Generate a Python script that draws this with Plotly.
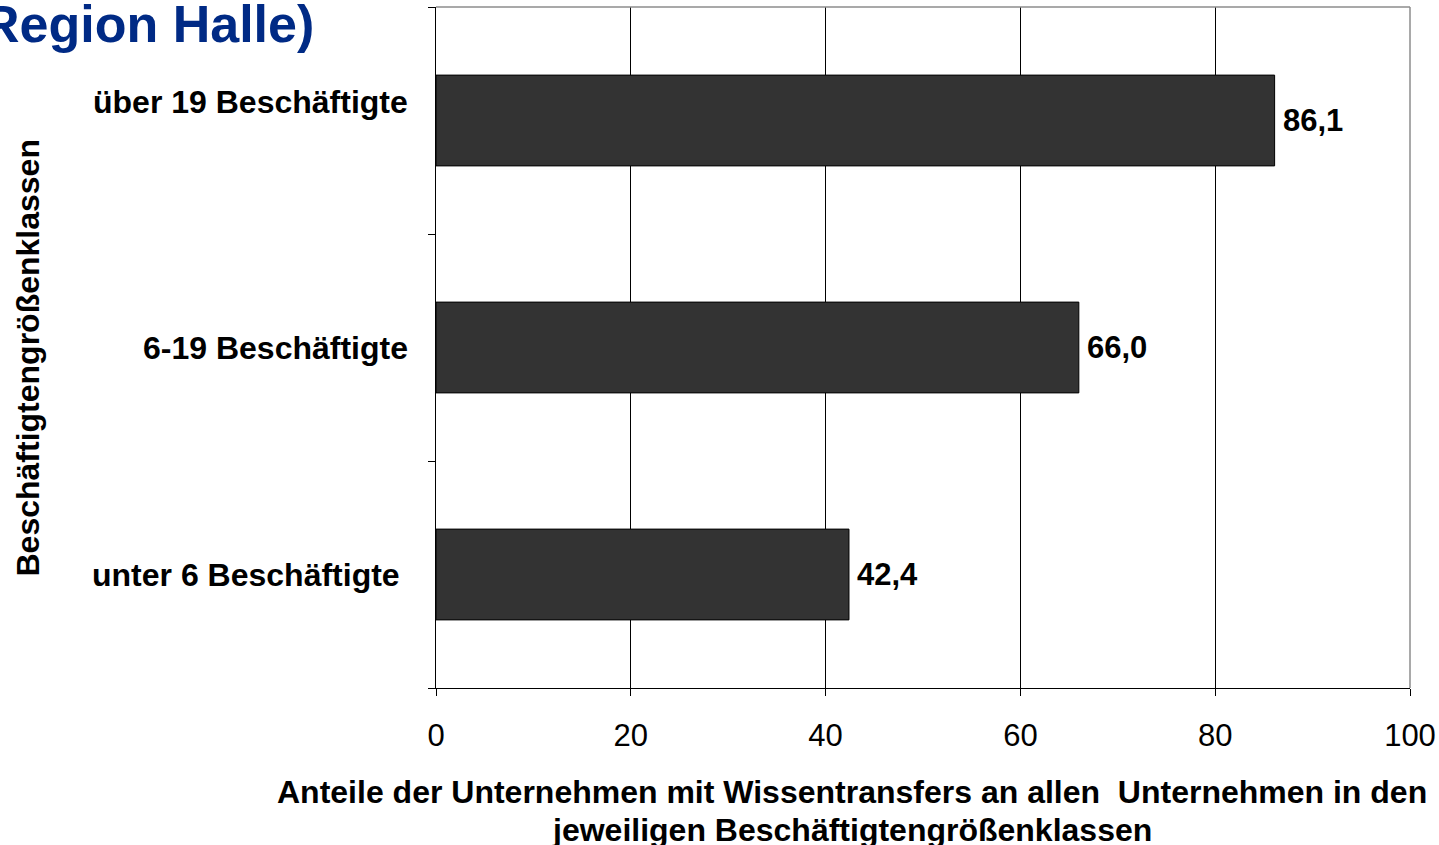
import plotly.graph_objects as go

categories = ["unter 6 Beschäftigte", "6-19 Beschäftigte", "über 19 Beschäftigte"]
values = [42.4, 66.0, 86.1]
value_labels = ["42,4", "66,0", "86,1"]
x_ticks = [0, 20, 40, 60, 80, 100]
title_text = "Region Halle)"
x_title_lines = ["Anteile der Unternehmen mit Wissentransfers an allen  Unternehmen in den",
                 "jeweiligen Beschäftigtengrößenklassen"]
y_title = "Beschäftigtengrößenklassen"

FONT = "Liberation Sans, Arial, sans-serif"
pos = list(range(len(categories)))

fig = go.Figure()
fig.add_trace(go.Bar(
    x=values, y=pos, orientation="h",
    width=0.4,
    marker=dict(color="#333333", line=dict(color="#000000", width=1)),
    hoverinfo="skip",
))

W, H = 1439, 845
L, R, T, B = 436, 29, 7, 157
PW, PH = W - L - R, H - T - B

fig.update_layout(
    width=W, height=H,
    margin=dict(l=L, r=R, t=T, b=B, pad=0),
    paper_bgcolor="white", plot_bgcolor="white",
    showlegend=False,
    font=dict(family=FONT, color="#000000"),
    xaxis=dict(
        range=[0, 100], tickvals=x_ticks, ticktext=[str(v) for v in x_ticks],
        showgrid=True, gridcolor="#000000", gridwidth=1,
        showline=True, linecolor="#000000", linewidth=1,
        ticks="outside", ticklen=7, tickcolor="#000000", tickwidth=1,
        ticklabelstandoff=13,
        tickfont=dict(family=FONT, size=31, color="#000000"),
        zeroline=False, fixedrange=True, automargin=False,
    ),
    yaxis=dict(
        range=[-0.5, 2.5], tickvals=[-0.5, 0.5, 1.5, 2.5], ticktext=["", "", "", ""],
        showgrid=False, showline=True, linecolor="#000000", linewidth=1,
        ticks="outside", ticklen=7, tickcolor="#000000", tickwidth=1,
        zeroline=False, fixedrange=True, automargin=False,
    ),
)

# grey top and right border
fig.add_shape(type="line", xref="paper", yref="paper", x0=0, x1=1, y0=1, y1=1,
              line=dict(color="#8c8c8c", width=1.5))
fig.add_shape(type="line", xref="paper", yref="paper", x0=1, x1=1, y0=0, y1=1,
              line=dict(color="#8c8c8c", width=1.5))

# value labels
for p, v, t in zip(pos, values, value_labels):
    fig.add_annotation(x=v, xref="x", y=p, yref="y", text=t, showarrow=False,
                       xanchor="left", yanchor="middle", xshift=6,
                       font=dict(family=FONT, size=31, color="#000000", weight="bold"))

# category labels
shifts = [(-34, 0), (-26, 0), (-26, 19)]
for p, c, (xs, ys) in zip(pos, categories, shifts):
    fig.add_annotation(x=0, xref="paper", y=p, yref="y", text=c, showarrow=False,
                       xanchor="right", yanchor="middle", xshift=xs, yshift=ys,
                       font=dict(family=FONT, size=32, color="#000000", weight="bold"))

# x axis title (two lines)
for line, yc in zip(x_title_lines, [792, 830]):
    fig.add_annotation(x=(852 - L) / PW, xref="paper", y=-(yc - 688) / PH,
                       yref="paper", text=line, showarrow=False, xanchor="center", yanchor="middle",
                       font=dict(family=FONT, size=32, color="#000000", weight="bold"))
# y axis title
fig.add_annotation(x=(27 - L) / PW, xref="paper", y=0.5, yref="paper", text=y_title,
                   showarrow=False, textangle=-90, xanchor="center", yanchor="middle",
                   yshift=-11,
                   font=dict(family=FONT, size=32, color="#000000", weight="bold"))

# title (clipped at left edge, as in the source)
fig.add_annotation(x=(316 - L) / PW, xref="paper", y=1, yref="paper", text=title_text,
                   showarrow=False, xanchor="right", yanchor="middle", yshift=-17,
                   font=dict(family=FONT, size=52, color="#002a85", weight="bold"))

fig.write_html("out.html", config={"displayModeBar": False},
               post_script="document.body.style.margin='0';document.body.style.padding='0';")
